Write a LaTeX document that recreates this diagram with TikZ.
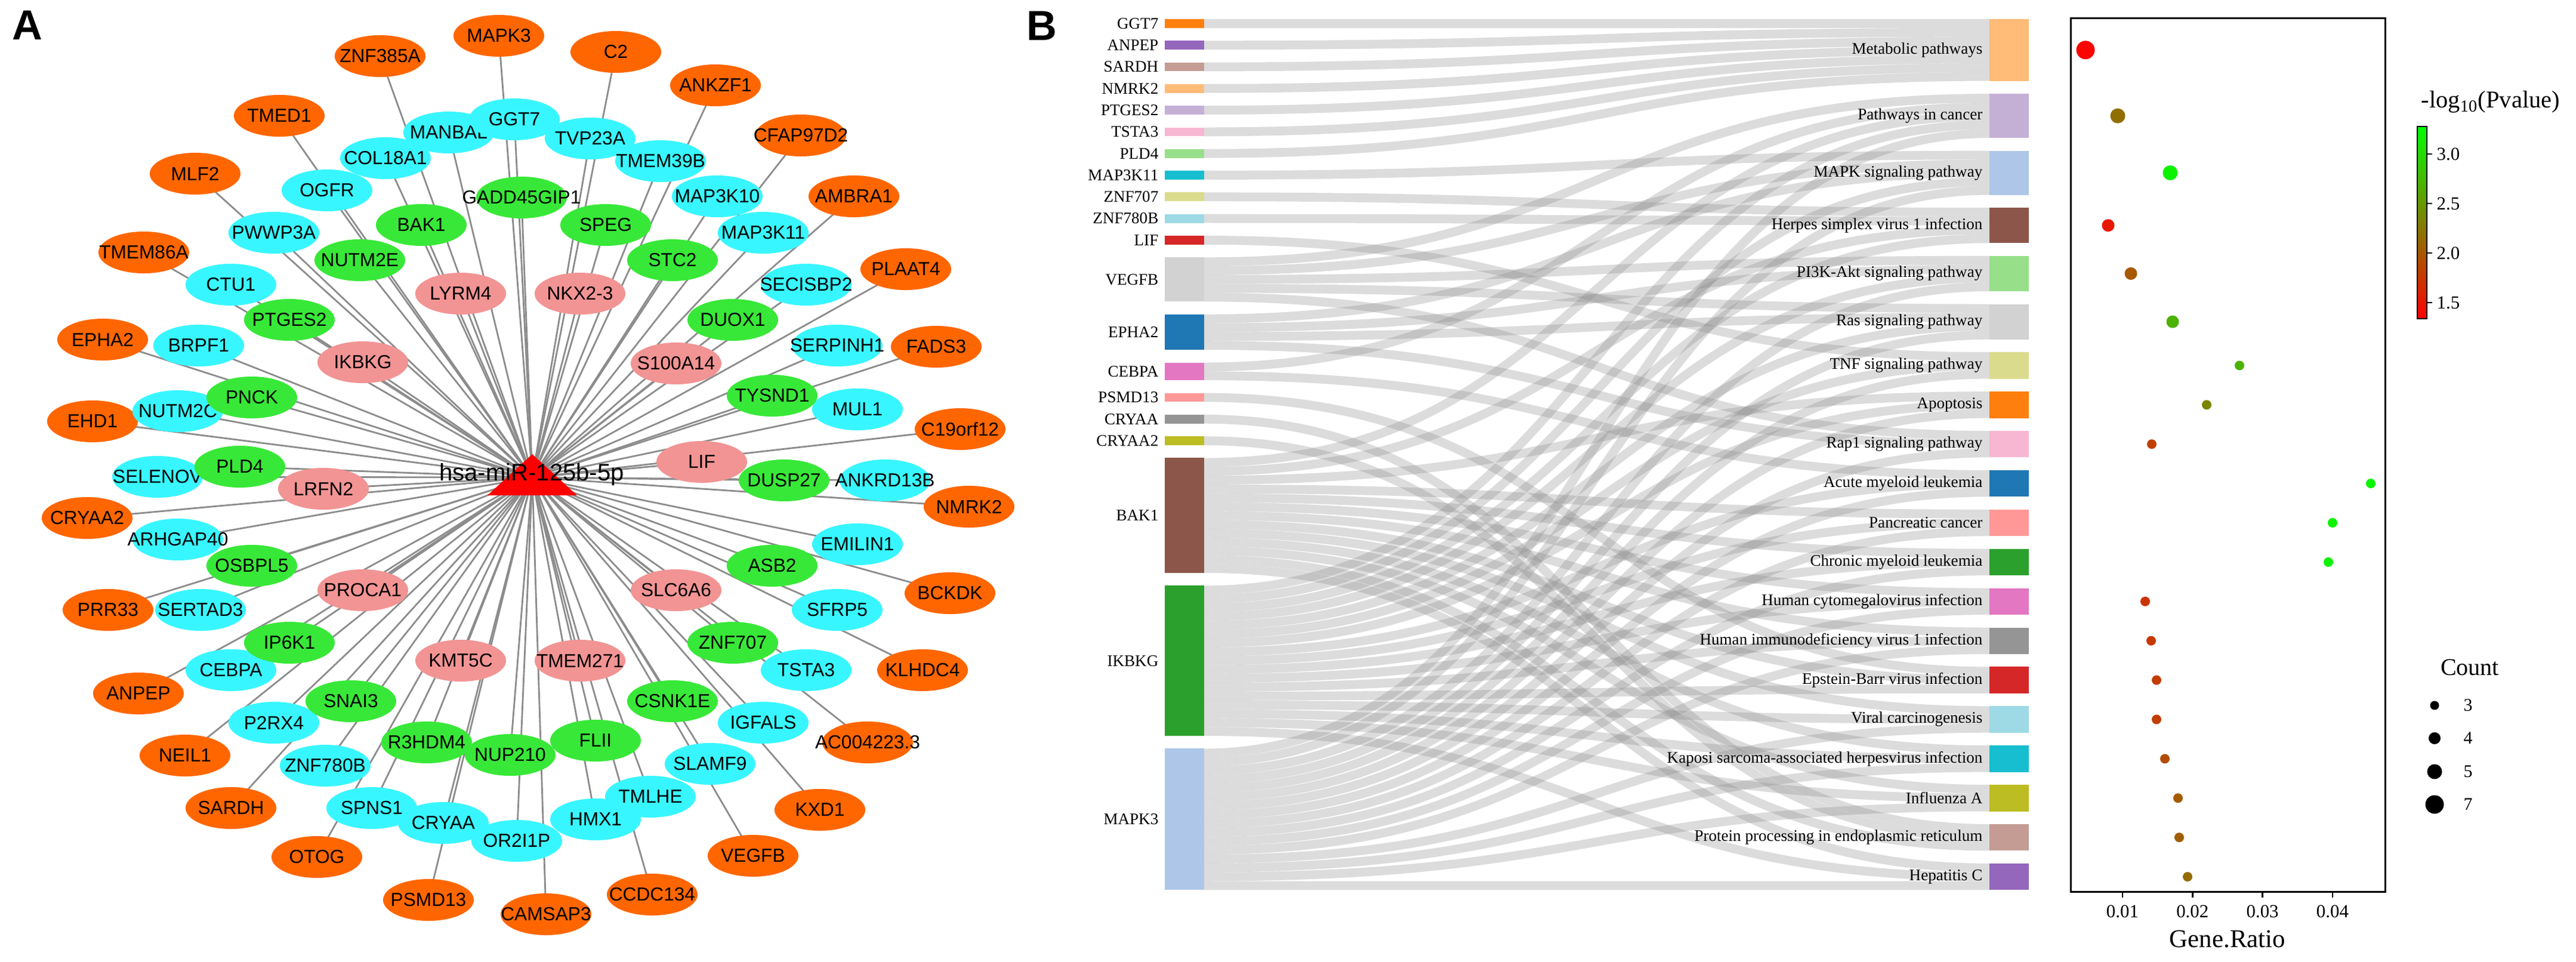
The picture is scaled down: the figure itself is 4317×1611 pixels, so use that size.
\documentclass[tikz,border=0pt]{standalone}
\usepackage{fontspec}
\setmainfont{Liberation Serif}
\newfontfamily\arial{Liberation Sans}
\usetikzlibrary{shapes.geometric}
\pgfdeclarelayer{bg}
\pgfsetlayers{bg,main}
\definecolor{orgA}{HTML}{FF6600}
\definecolor{cyA}{HTML}{38F6FF}
\definecolor{grA}{HTML}{38E838}
\definecolor{pkA}{HTML}{F29494}
\definecolor{edgeA}{HTML}{8C8C8C}
\definecolor{dBlue}{HTML}{1F77B4}
\definecolor{dBlueL}{HTML}{AEC7E8}
\definecolor{dOrange}{HTML}{FF7F0E}
\definecolor{dOrangeL}{HTML}{FFBB78}
\definecolor{dGreen}{HTML}{2CA02C}
\definecolor{dGreenL}{HTML}{98DF8A}
\definecolor{dRed}{HTML}{D62728}
\definecolor{dRedL}{HTML}{FF9896}
\definecolor{dPurple}{HTML}{9467BD}
\definecolor{dPurpleL}{HTML}{C5B0D5}
\definecolor{dBrown}{HTML}{8C564B}
\definecolor{dBrownL}{HTML}{C49C94}
\definecolor{dPink}{HTML}{E377C2}
\definecolor{dPinkL}{HTML}{F7B6D2}
\definecolor{dGray}{HTML}{959595}
\definecolor{dGrayL}{HTML}{D2D2D2}
\definecolor{dOlive}{HTML}{BCBD22}
\definecolor{dOliveL}{HTML}{DBDB8D}
\definecolor{dCyan}{HTML}{17BECF}
\definecolor{dCyanL}{HTML}{9EDAE5}
\tikzset{
  nd/.style={ellipse, minimum width=1.52cm, minimum height=0.70cm, inner sep=0pt, text=black, font=\arial\fontsize{9}{10}\selectfont},
  no/.style={nd, fill=orgA}, nc/.style={nd, fill=cyA}, ng/.style={nd, fill=grA}, np/.style={nd, fill=pkA},
  edgeline/.style={draw=edgeA, line width=0.8pt},
  sbar/.style={rectangle, inner sep=0pt, outer sep=0pt, minimum width=0.66cm},
  slab/.style={inner sep=0pt, font=\fontsize{7.7}{9}\selectfont},
  link/.style={draw=black!45, line width=4.2pt, draw opacity=0.3},
  panel/.style={font=\arial\bfseries\fontsize{20}{20}\selectfont, inner sep=0pt},
  tick/.style={font=\fontsize{8.8}{10}\selectfont, inner sep=0pt},
}
\newcommand\gn[4]{\node[#1] (#2) at (#3) {\makebox[0pt]{#4}};}
\newcommand\genebar[5]{%
  \pgfmathsetmacro\sbH{#4*0.148}%
  \pgfmathsetmacro\sbC{#3+#4*7.4}%
  \node[sbar, fill=#2, minimum height=\sbH cm] (#1) at (1985,\sbC) {};%
  \node[slab, anchor=east] (#1l) at (1942,\sbC) {#5};}
\newcommand\pathbar[5]{%
  \pgfmathsetmacro\sbH{#4*0.148}%
  \pgfmathsetmacro\sbC{#3+#4*7.4}%
  \node[sbar, fill=#2, minimum height=\sbH cm] (#1) at (3367,\sbC) {};%
  \node[slab, anchor=east] (#1l) at (3323,\sbC) {#5};}
\newcommand\gdot[5]{\node[circle, inner sep=0pt, minimum size=#4cm, fill=green!#5!red] (#1) at (#2,#3) {};}
\begin{document}
\begin{tikzpicture}[x=0.01cm,y=-0.01cm]
\begin{pgfonlayer}{bg}\fill[white] (0,0) rectangle (4317,1611);\end{pgfonlayer}
\useasboundingbox (0,0) rectangle (4317,1611);
% ---------------- panel A ----------------
\node[panel] (labA) at (46,42) {A};
\coordinate (mir) at (892,800);
% orange
\gn{no}{aMAPK3}{836,60}{MAPK3}
\gn{no}{aZNF385A}{637,94}{ZNF385A}
\gn{no}{aTMED1}{468,194}{TMED1}
\gn{no}{aMLF2}{327,291}{MLF2}
\gn{no}{aTMEM86A}{241,423}{TMEM86A}
\gn{no}{aEPHA2}{172,569}{EPHA2}
\gn{no}{aEHD1}{155,706}{EHD1}
\gn{no}{aCRYAA2}{146,868}{CRYAA2}
\gn{no}{aPRR33}{181,1022}{PRR33}
\gn{no}{aANPEP}{232,1162}{ANPEP}
\gn{no}{aNEIL1}{310,1266}{NEIL1}
\gn{no}{aSARDH}{387,1354}{SARDH}
\gn{no}{aOTOG}{531,1436}{OTOG}
\gn{no}{aPSMD13}{718,1508}{PSMD13}
\gn{no}{aCAMSAP3}{915,1532}{CAMSAP3}
\gn{no}{aCCDC134}{1093,1499}{CCDC134}
\gn{no}{aVEGFB}{1262,1434}{VEGFB}
\gn{no}{aKXD1}{1374,1357}{KXD1}
\gn{no}{aAC}{1454,1244}{AC004223.3}
\gn{no}{aKLHDC4}{1546,1123}{KLHDC4}
\gn{no}{aBCKDK}{1592,994}{BCKDK}
\gn{no}{aNMRK2}{1624,849}{NMRK2}
\gn{no}{aC19}{1609,719}{C19orf12}
\gn{no}{aFADS3}{1569,581}{FADS3}
\gn{no}{aPLAAT4}{1518,451}{PLAAT4}
\gn{no}{aAMBRA1}{1431,329}{AMBRA1}
\gn{no}{aCFAP}{1342,227}{CFAP97D2}
\gn{no}{aANKZF1}{1199,143}{ANKZF1}
\gn{no}{aC2}{1032,87}{C2}
% cyan
\gn{nc}{aMANBAL}{752,222}{MANBAL}
\gn{nc}{aGGT7}{862,200}{GGT7}
\gn{nc}{aTVP23A}{989,232}{TVP23A}
\gn{nc}{aTMEM39B}{1107,270}{TMEM39B}
\gn{nc}{aCOL18A1}{646,265}{COL18A1}
\gn{nc}{aOGFR}{548,319}{OGFR}
\gn{nc}{aPWWP3A}{459,390}{PWWP3A}
\gn{nc}{aCTU1}{387,477}{CTU1}
\gn{nc}{aBRPF1}{333,579}{BRPF1}
\gn{nc}{aNUTM2C}{298,689}{NUTM2C}
\gn{nc}{aSELENOV}{264,799}{SELENOV}
\gn{nc}{aARHGAP40}{298,904}{ARHGAP40}
\gn{nc}{aSERTAD3}{336,1022}{SERTAD3}
\gn{nc}{aCEBPA}{387,1123}{CEBPA}
\gn{nc}{aP2RX4}{459,1211}{P2RX4}
\gn{nc}{aZNF780B}{545,1283}{ZNF780B}
\gn{nc}{aSPNS1}{623,1354}{SPNS1}
\gn{nc}{aCRYAA}{743,1379}{CRYAA}
\gn{nc}{aOR2I1P}{866,1409}{OR2I1P}
\gn{nc}{aHMX1}{998,1373}{HMX1}
\gn{nc}{aTMLHE}{1090,1335}{TMLHE}
\gn{nc}{aSLAMF9}{1190,1280}{SLAMF9}
\gn{nc}{aIGFALS}{1279,1211}{IGFALS}
\gn{nc}{aTSTA3}{1351,1123}{TSTA3}
\gn{nc}{aSFRP5}{1403,1022}{SFRP5}
\gn{nc}{aEMILIN1}{1437,912}{EMILIN1}
\gn{nc}{aANKRD13B}{1483,805}{ANKRD13B}
\gn{nc}{aMUL1}{1437,686}{MUL1}
\gn{nc}{aSERPINH1}{1403,579}{SERPINH1}
\gn{nc}{aSECISBP2}{1351,477}{SECISBP2}
\gn{nc}{aMAP3K11}{1279,390}{MAP3K11}
\gn{nc}{aMAP3K10}{1202,329}{MAP3K10}
% green
\gn{ng}{aGADD45GIP1}{874,331}{GADD45GIP1}
\gn{ng}{aBAK1}{706,377}{BAK1}
\gn{ng}{aNUTM2E}{603,436}{NUTM2E}
\gn{ng}{aPTGES2}{485,536}{PTGES2}
\gn{ng}{aPNCK}{422,666}{PNCK}
\gn{ng}{aPLD4}{402,782}{PLD4}
\gn{ng}{aOSBPL5}{422,948}{OSBPL5}
\gn{ng}{aIP6K1}{485,1077}{IP6K1}
\gn{ng}{aSNAI3}{588,1175}{SNAI3}
\gn{ng}{aR3HDM4}{715,1244}{R3HDM4}
\gn{ng}{aNUP210}{855,1265}{NUP210}
\gn{ng}{aFLII}{998,1241}{FLII}
\gn{ng}{aCSNK1E}{1127,1175}{CSNK1E}
\gn{ng}{aZNF707}{1228,1077}{ZNF707}
\gn{ng}{aASB2}{1294,948}{ASB2}
\gn{ng}{aDUSP27}{1314,805}{DUSP27}
\gn{ng}{aTYSND1}{1294,663}{TYSND1}
\gn{ng}{aDUOX1}{1228,536}{DUOX1}
\gn{ng}{aSTC2}{1127,436}{STC2}
\gn{ng}{aSPEG}{1015,377}{SPEG}
% pink
\gn{np}{aLYRM4}{772,492}{LYRM4}
\gn{np}{aIKBKG}{608,607}{IKBKG}
\gn{np}{aLRFN2}{542,819}{LRFN2}
\gn{np}{aPROCA1}{608,989}{PROCA1}
\gn{np}{aKMT5C}{772,1107}{KMT5C}
\gn{np}{aTMEM271}{972,1107}{TMEM271}
\gn{np}{aSLC6A6}{1133,989}{SLC6A6}
\gn{np}{aLIF}{1176,774}{LIF}
\gn{np}{aS100A14}{1133,609}{S100A14}
\gn{np}{aNKX23}{972,492}{NKX2-3}
\begin{pgfonlayer}{bg}
\foreach \n in {aMAPK3,aZNF385A,aTMED1,aMLF2,aTMEM86A,aEPHA2,aEHD1,aCRYAA2,aPRR33,aANPEP,aNEIL1,aSARDH,aOTOG,aPSMD13,aCAMSAP3,aCCDC134,aVEGFB,aKXD1,aAC,aKLHDC4,aBCKDK,aNMRK2,aC19,aFADS3,aPLAAT4,aAMBRA1,aCFAP,aANKZF1,aC2,
  aMANBAL,aGGT7,aTVP23A,aTMEM39B,aCOL18A1,aOGFR,aPWWP3A,aCTU1,aBRPF1,aNUTM2C,aSELENOV,aARHGAP40,aSERTAD3,aCEBPA,aP2RX4,aZNF780B,aSPNS1,aCRYAA,aOR2I1P,aHMX1,aTMLHE,aSLAMF9,aIGFALS,aTSTA3,aSFRP5,aEMILIN1,aANKRD13B,aMUL1,aSERPINH1,aSECISBP2,aMAP3K11,aMAP3K10,
  aGADD45GIP1,aBAK1,aNUTM2E,aPTGES2,aPNCK,aPLD4,aOSBPL5,aIP6K1,aSNAI3,aR3HDM4,aNUP210,aFLII,aCSNK1E,aZNF707,aASB2,aDUSP27,aTYSND1,aDUOX1,aSTC2,aSPEG,
  aLYRM4,aIKBKG,aLRFN2,aPROCA1,aKMT5C,aTMEM271,aSLC6A6,aLIF,aS100A14,aNKX23}
  {\draw[edgeline] (mir) -- (\n.center);}
\end{pgfonlayer}
\fill[red] (892,761) -- (817,830) -- (967,830) -- cycle;
\node[font=\arial\fontsize{11.4}{12}\selectfont, inner sep=0pt] (mirlab) at (891,795) {hsa-miR-125b-5p};
% ---------------- panel B : sankey ----------------
\node[panel] (labB) at (1746,43) {B};
\foreach \p/\t in {1/32,2/157.1,3/252.6,4/348.1,5/428.8,6/509.5,7/590.2,8/656.1,9/722.0,10/787.9,11/853.8,12/919.7,13/985.6,14/1051.5,15/1117.4,16/1183.3,17/1249.2,18/1315.1,19/1381.0,20/1446.9}{%
  \expandafter\xdef\csname ptop\p\endcsname{\t}%
  \expandafter\xdef\csname pcnt\p\endcsname{0}}
\foreach \gtop/\plst in {32/{1},68.3/{1},104.6/{1},140.9/{1},177.2/{1},213.5/{1},249.8/{1},286.1/{3},322.4/{4},358.7/{4},395.0/{7},431.3/{2,3,5,6,9},526.8/{3,5,6,9},607.5/{2,10},658.6/{15},694.9/{19},731.2/{19},767.5/{2,4,8,11,12,13,14,15,16,17,18,19,20},981.4/{2,3,4,5,6,7,8,10,11,12,13,14,15,16,17,18,20},1254.5/{2,3,5,6,7,8,9,10,11,12,13,14,16,17,18,20}}{%
  \xdef\goff{0}%
  \foreach \p in \plst {%
    \edef\ptv{\csname ptop\p\endcsname}%
    \edef\pcv{\csname pcnt\p\endcsname}%
    \pgfmathsetmacro\ya{\gtop+\goff*14.8+7.4}%
    \pgfmathsetmacro\yb{\ptv+\pcv*14.8+7.4}%
    \draw[link] (2018,\ya) .. controls (2676,\ya) and (2676,\yb) .. (3334,\yb);
    \pgfmathtruncatemacro\tmpa{\goff+1}\xdef\goff{\tmpa}%
    \pgfmathtruncatemacro\tmpb{\pcv+1}%
    \expandafter\xdef\csname pcnt\p\endcsname{\tmpb}%
  }%
}
\genebar{gGGT7}{dOrange}{32}{1}{GGT7}
\genebar{gANPEP}{dPurple}{68.3}{1}{ANPEP}
\genebar{gSARDH}{dBrownL}{104.6}{1}{SARDH}
\genebar{gNMRK2}{dOrangeL}{140.9}{1}{NMRK2}
\genebar{gPTGES2}{dPurpleL}{177.2}{1}{PTGES2}
\genebar{gTSTA3}{dPinkL}{213.5}{1}{TSTA3}
\genebar{gPLD4}{dGreenL}{249.8}{1}{PLD4}
\genebar{gMAP3K11}{dCyan}{286.1}{1}{MAP3K11}
\genebar{gZNF707}{dOliveL}{322.4}{1}{ZNF707}
\genebar{gZNF780B}{dCyanL}{358.7}{1}{ZNF780B}
\genebar{gLIF}{dRed}{395.0}{1}{LIF}
\genebar{gVEGFB}{dGrayL}{431.3}{5}{VEGFB}
\genebar{gEPHA2}{dBlue}{526.8}{4}{EPHA2}
\genebar{gCEBPA}{dPink}{607.5}{2}{CEBPA}
\genebar{gPSMD13}{dRedL}{658.6}{1}{PSMD13}
\genebar{gCRYAA}{dGray}{694.9}{1}{CRYAA}
\genebar{gCRYAA2}{dOlive}{731.2}{1}{CRYAA2}
\genebar{gBAK1}{dBrown}{767.5}{13}{BAK1}
\genebar{gIKBKG}{dGreen}{981.4}{17}{IKBKG}
\genebar{gMAPK3}{dBlueL}{1254.5}{16}{MAPK3}
\pathbar{p1}{dOrangeL}{32}{7}{Metabolic pathways}
\pathbar{p2}{dPurpleL}{157.1}{5}{Pathways in cancer}
\pathbar{p3}{dBlueL}{252.6}{5}{MAPK signaling pathway}
\pathbar{p4}{dBrown}{348.1}{4}{Herpes simplex virus 1 infection}
\pathbar{p5}{dGreenL}{428.8}{4}{PI3K-Akt signaling pathway}
\pathbar{p6}{dGrayL}{509.5}{4}{Ras signaling pathway}
\pathbar{p7}{dOliveL}{590.2}{3}{TNF signaling pathway}
\pathbar{p8}{dOrange}{656.1}{3}{Apoptosis}
\pathbar{p9}{dPinkL}{722.0}{3}{Rap1 signaling pathway}
\pathbar{p10}{dBlue}{787.9}{3}{Acute myeloid leukemia}
\pathbar{p11}{dRedL}{853.8}{3}{Pancreatic cancer}
\pathbar{p12}{dGreen}{919.7}{3}{Chronic myeloid leukemia}
\pathbar{p13}{dPink}{985.6}{3}{Human cytomegalovirus infection}
\pathbar{p14}{dGray}{1051.5}{3}{Human immunodeficiency virus 1 infection}
\pathbar{p15}{dRed}{1117.4}{3}{Epstein-Barr virus infection}
\pathbar{p16}{dCyanL}{1183.3}{3}{Viral carcinogenesis}
\pathbar{p17}{dCyan}{1249.2}{3}{Kaposi sarcoma-associated herpesvirus infection}
\pathbar{p18}{dOlive}{1315.1}{3}{Influenza A}
\pathbar{p19}{dBrownL}{1381.0}{3}{Protein processing in endoplasmic reticulum}
\pathbar{p20}{dPurple}{1446.9}{3}{Hepatitis C}
% ---------------- dot plot ----------------
\node[draw, line width=0.85pt, inner sep=0pt, minimum width=5.26cm, minimum height=14.63cm] (box) at (3734,762.5) {};
\foreach \x/\l in {3557/0.01,3674.3/0.02,3791.6/0.03,3908.9/0.04}{
  \draw[line width=0.7pt] (\x,1494) -- (\x,1504);
  \node[tick] at (\x,1527) {\l};}
\node[font=\fontsize{12.2}{13}\selectfont, inner sep=0pt] (xlab) at (3733,1574) {Gene.Ratio};
\gdot{dt1}{3495}{83.8}{0.31}{2}
\gdot{dt2}{3549}{194.1}{0.25}{43}
\gdot{dt3}{3637}{289.6}{0.25}{95}
\gdot{dt4}{3533}{377.7}{0.21}{9}
\gdot{dt5}{3571}{458.4}{0.21}{35}
\gdot{dt6}{3641}{539.1}{0.21}{70}
\gdot{dt7}{3753}{612.4}{0.16}{70}
\gdot{dt8}{3698}{678.3}{0.16}{52}
\gdot{dt9}{3606}{744.2}{0.16}{25}
\gdot{dt10}{3973}{810.1}{0.16}{96}
\gdot{dt11}{3909}{876.0}{0.16}{95}
\gdot{dt12}{3902}{941.9}{0.16}{95}
\gdot{dt13}{3595}{1007.8}{0.16}{20}
\gdot{dt14}{3605}{1073.7}{0.16}{22}
\gdot{dt15}{3614}{1139.6}{0.16}{24}
\gdot{dt16}{3614}{1205.5}{0.16}{24}
\gdot{dt17}{3628}{1271.4}{0.16}{30}
\gdot{dt18}{3650}{1337.3}{0.16}{36}
\gdot{dt19}{3652}{1403.2}{0.16}{37}
\gdot{dt20}{3666}{1469.1}{0.16}{42}
% colorbar
\node[anchor=west, inner sep=0pt, font=\fontsize{11.5}{12}\selectfont] (cbt) at (4057,171) {-log\textsubscript{10}(Pvalue)};
\node[draw, line width=0.6pt, inner sep=0pt, minimum width=0.16cm, minimum height=3.22cm, top color=green, bottom color=red] (cbar) at (4059,373) {};
\foreach \y/\l in {258/3.0,341/2.5,424/2.0,507/1.5}{
  \draw[line width=0.6pt] (4067,\y) -- (4076,\y);
  \node[tick, anchor=west] at (4083,\y) {\l};}
% count legend
\node[inner sep=0pt, font=\fontsize{11.4}{12}\selectfont] (cnt) at (4139,1118) {Count};
\foreach \y/\d/\l in {1182/0.15/3,1237/0.20/4,1293/0.25/5,1348/0.31/7}{
  \node[circle, fill=black, inner sep=0pt, minimum size=\d cm] at (4080,\y) {};
  \node[inner sep=0pt, font=\fontsize{8.5}{10}\selectfont] at (4136,\y) {\l};}
\end{tikzpicture}
\end{document}
